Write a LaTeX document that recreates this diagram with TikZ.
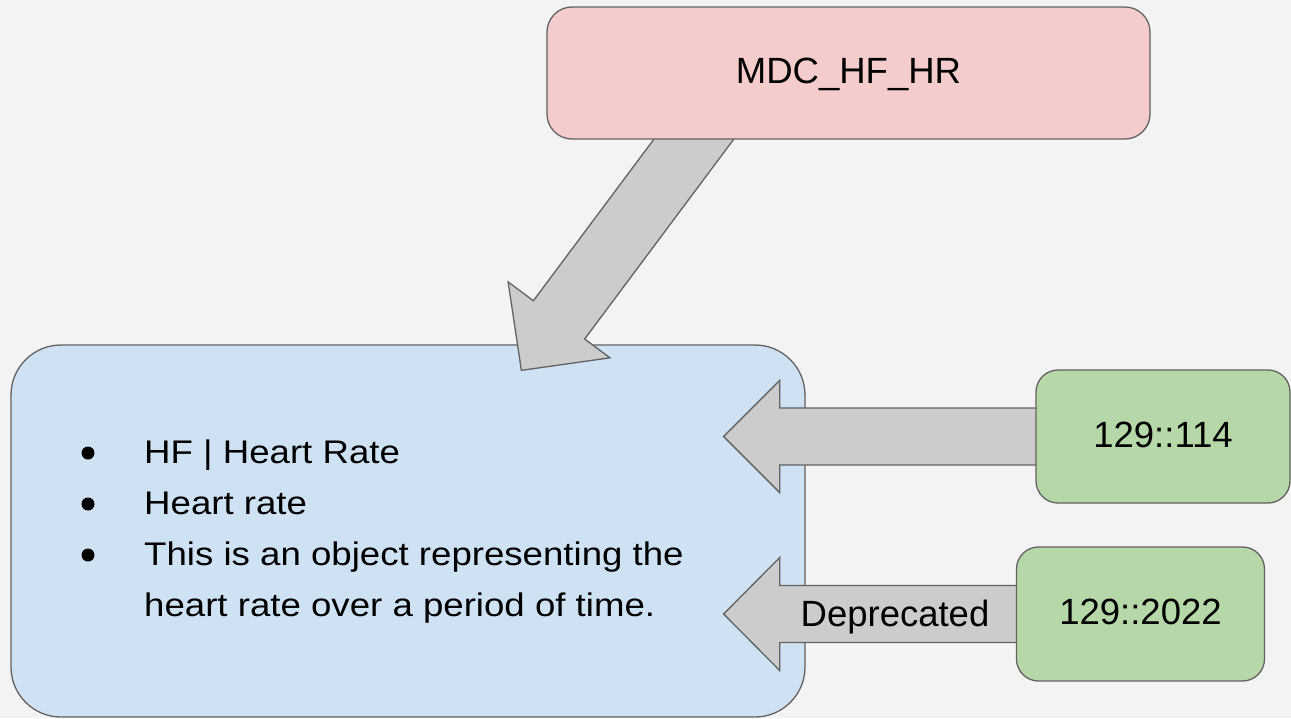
\documentclass[tikz,border=0pt]{standalone}
\usepackage{fontspec}
\setmainfont{Liberation Sans}
\newfontfamily\listfont[FakeStretch=1.12]{Liberation Sans}
\usetikzlibrary{calc}
\definecolor{bgc}{HTML}{F4F3F3}
\definecolor{pinkc}{HTML}{F4CCCC}
\definecolor{bluec}{HTML}{CFE2F3}
\definecolor{greenc}{HTML}{B6D7A8}
\definecolor{arrc}{HTML}{CCCCCC}
\definecolor{edgec}{HTML}{626262}
\pgfdeclarelayer{bg}\pgfdeclarelayer{mid}\pgfsetlayers{bg,mid,main}
\newcommand\myblockarrow[5]{%
  \coordinate (ba-b) at ($(#2)!#5!(#1)$);
  \draw[blockarr] ($(#1)!#3!90:(#2)$) -- ($(ba-b)!#3!90:(#2)$) -- ($(ba-b)!#4!90:(#2)$) -- (#2)
    -- ($(ba-b)!#4!-90:(#2)$) -- ($(ba-b)!#3!-90:(#2)$) -- ($(#1)!#3!-90:(#2)$) -- cycle;}
\tikzset{
  box/.style={draw=edgec, line width=1.3pt, inner sep=0pt, text=black},
  pinkbox/.style={box, fill=pinkc, rounded corners=25pt},
  bluebox/.style={box, fill=bluec, rounded corners=50pt},
  greenbox/.style={box, fill=greenc, rounded corners=22pt},
  blockarr/.style={draw=edgec, line width=1.3pt, fill=arrc, line join=miter},
  bigtxt/.style={font=\fontsize{36.5}{44}\selectfont},
  listtxt/.style={inner sep=0pt, anchor=base west, font=\listfont\fontsize{32.7}{51}\selectfont},
  bulletdot/.style={fill=black}
}
\begin{document}
\begin{tikzpicture}[x=1pt,y=-1pt]
\begin{pgfonlayer}{bg}
  \fill[bgc] (0,0) rectangle (1291,718);
  \useasboundingbox (0,0) rectangle (1291,718);
  \node[bluebox, minimum width=794, minimum height=372] (blue) at (408,531) {};
\end{pgfonlayer}

% nodes
\node[pinkbox, bigtxt, minimum width=603, minimum height=132, text height=27pt, text depth=7pt] (mdc) at (848.5,73) {MDC\_HF\_HR};
\node[greenbox, bigtxt, minimum width=254, minimum height=133, text height=28pt, text depth=7pt] (g1) at (1163,436.5) {129::114};
\node[greenbox, bigtxt, minimum width=248, minimum height=134, text height=27pt, text depth=7pt] (g2) at (1140.5,614) {129::2022};

% list text inside blue box
\node[listtxt] (l1) at (144,463) {HF | Heart Rate};
\node[listtxt] (l2) at (144,514) {Heart rate};
\node[listtxt] (l3) at (144,565) {This is an object representing the};
\node[listtxt] (l4) at (144,616) {heart rate over a period of time.};
\fill[bulletdot] (88,453) circle (6.5);
\fill[bulletdot] (88,504) circle (6.5);
\fill[bulletdot] (88,555) circle (6.5);

% connectors (block arrows)
\coordinate (d0) at ($(mdc.south west)+(171,-32)$);
\coordinate (d1) at ($(blue.north west)+(511,26)$);
\coordinate (h1s) at ($(g1.west)+(40,0)$);
\coordinate (h1t) at ($(blue.east |- g1.west)+(-82,0)$);
\coordinate (h2s) at ($(g2.west)+(40,0)$);
\coordinate (h2t) at ($(blue.east |- g2.west)+(-82,0)$);
\begin{pgfonlayer}{mid}
  \myblockarrow{d0}{d1}{32pt}{63.5pt}{63pt}
  \myblockarrow{h1s}{h1t}{28.5pt}{56pt}{56pt}
  \myblockarrow{h2s}{h2t}{28.5pt}{56.5pt}{56pt}
\end{pgfonlayer}
\node[bigtxt, inner sep=0pt, anchor=base] (dep) at (895,626) {Deprecated};
\end{tikzpicture}
\end{document}
